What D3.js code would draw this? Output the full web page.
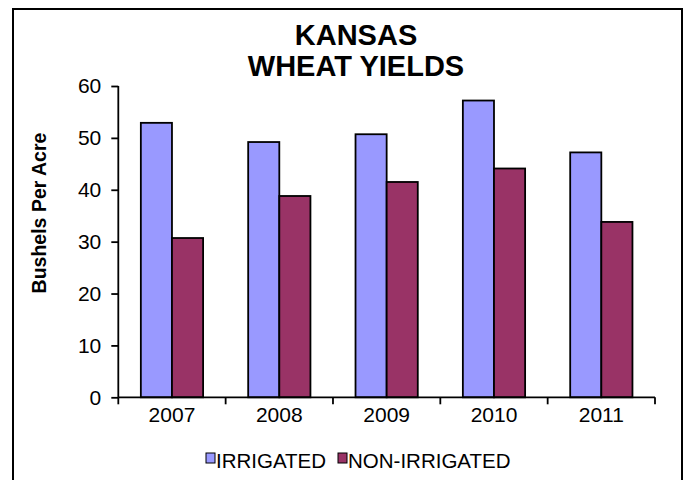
<!DOCTYPE html>
<html>
<head>
<meta charset="utf-8">
<script src="https://cdn.jsdelivr.net/npm/d3@7"></script>
<style>
  html, body { margin: 0; padding: 0; background: #fff; }
  svg { display: block; font-family: "Liberation Sans", Arial, sans-serif; }
</style>
</head>
<body>
<svg id="chart" width="686" height="480"></svg>
<script>
const years = ["2007", "2008", "2009", "2010", "2011"];
const irrigated = [52.9, 49.2, 50.7, 57.2, 47.2];
const nonIrrigated = [30.7, 38.8, 41.5, 44.1, 33.8];
const seriesNames = ["IRRIGATED", "NON-IRRIGATED"];
const seriesColors = ["#9999ff", "#993366"];
const yTicks = [0, 10, 20, 30, 40, 50, 60];
const titleLines = ["KANSAS", "WHEAT YIELDS"];
const yLabel = "Bushels Per Acre";

const svg = d3.select("#chart");

// outer frame
svg.append("rect")
  .attr("x", 13).attr("y", 9).attr("width", 669).attr("height", 480)
  .attr("fill", "#fff").attr("stroke", "#000").attr("stroke-width", 2);

const plot = { left: 118.3, right: 655, top: 86, bottom: 397.3 };

const x = d3.scaleBand().domain(years).range([plot.left, plot.right]).padding(0);
const y = d3.scaleLinear().domain([0, 60]).range([plot.bottom, plot.top]);

const barW = x.bandwidth() * 0.29;

const series = [irrigated, nonIrrigated];
series.forEach((vals, si) => {
  svg.append("g").selectAll("rect")
    .data(years)
    .join("rect")
    .attr("x", (d) => x(d) + x.bandwidth() / 2 + (si - 1) * barW)
    .attr("y", (d, i) => y(vals[i]))
    .attr("width", barW)
    .attr("height", (d, i) => y(0) - y(vals[i]))
    .attr("fill", seriesColors[si])
    .attr("stroke", "#000")
    .attr("stroke-width", 1.8);
});

// y axis
const yAxis = d3.axisLeft(y).tickValues(yTicks).tickSize(7).tickPadding(10).tickFormat(d3.format("d"));
const gy = svg.append("g").attr("transform", `translate(${plot.left},0)`).call(yAxis);
gy.select(".domain").attr("stroke", "#000").attr("stroke-width", 1.8).attr("d", `M0,${plot.top}V${plot.bottom}`);
gy.selectAll(".tick line").attr("stroke", "#000").attr("stroke-width", 1.8);
gy.selectAll(".tick text").attr("font-size", 21).attr("fill", "#000").attr("font-family", "Liberation Sans, Arial, sans-serif");

// x axis
const xBoundaries = d3.scaleLinear().domain([0, years.length]).range([plot.left, plot.right]);
const gx = svg.append("g");
gx.append("line")
  .attr("x1", plot.left).attr("x2", plot.right)
  .attr("y1", plot.bottom).attr("y2", plot.bottom)
  .attr("stroke", "#000").attr("stroke-width", 1.8);
gx.selectAll("line.tk")
  .data(d3.range(years.length + 1))
  .join("line")
  .attr("class", "tk")
  .attr("x1", (d) => xBoundaries(d)).attr("x2", (d) => xBoundaries(d))
  .attr("y1", plot.bottom).attr("y2", plot.bottom + 7)
  .attr("stroke", "#000").attr("stroke-width", 1.8);
gx.selectAll("text")
  .data(years)
  .join("text")
  .attr("x", (d) => x(d) + x.bandwidth() / 2)
  .attr("y", 422)
  .attr("text-anchor", "middle")
  .attr("font-size", 21)
  .text((d) => d);

// title
svg.append("g").selectAll("text")
  .data(titleLines)
  .join("text")
  .attr("x", 356)
  .attr("y", (d, i) => 44.5 + i * 31)
  .attr("text-anchor", "middle")
  .attr("font-size", 29)
  .attr("font-weight", "bold")
  .text((d) => d);

// y label
svg.append("text")
  .attr("transform", `translate(46,${213}) rotate(-90)`)
  .attr("text-anchor", "middle")
  .attr("font-size", 19.5)
  .attr("font-weight", "bold")
  .text(yLabel);

// legend
const legend = svg.append("g");
const legendX = [206, 338];
seriesNames.forEach((name, i) => {
  legend.append("rect")
    .attr("x", legendX[i]).attr("y", 453).attr("width", 9).attr("height", 10)
    .attr("fill", seriesColors[i]).attr("stroke", "#000").attr("stroke-width", 1);
  legend.append("text")
    .attr("x", legendX[i] + 10).attr("y", 468)
    .attr("font-size", 20.5)
    .text(name);
});
</script>
</body>
</html>
